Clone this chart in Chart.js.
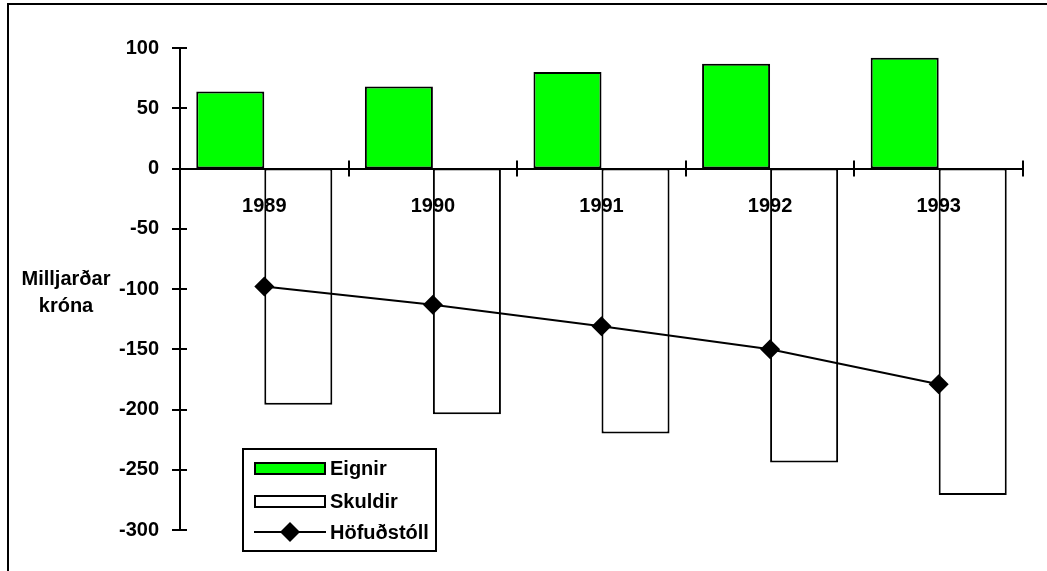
<!DOCTYPE html>
<html>
<head>
<meta charset="utf-8">
<script src="https://cdn.jsdelivr.net/npm/chart.js@4"></script>
<style>
    html, body { margin: 0; padding: 0; background: #fff; }
    #wrap { position: relative; width: 1047px; height: 571px; overflow: hidden; }
    #frame { position: absolute; left: 7px; top: 3px; width: 1100px; height: 600px;
             border-left: 2px solid #000; border-top: 2px solid #000; pointer-events: none; }
    #ytitle { position: absolute; left: 0; top: 265px; width: 132px; text-align: center;
              font: bold 20px 'Liberation Sans', Arial, sans-serif; line-height: 27px; color: #000; }
</style>
</head>
<body>
<div id="wrap">
    <canvas id="chart" width="1047" height="571"></canvas>
    <div id="frame"></div>
    <div id="ytitle">Milljarðar<br>króna</div>
</div>
<script>
var categories = ['1989', '1990', '1991', '1992', '1993'];
var eignir = [64, 68, 80, 87, 92];
var skuldir = [-196, -204, -220, -244, -271];
var hofudstoll = [-98, -113, -131, -150, -179];
var yTicks = [100, 50, 0, -50, -100, -150, -200, -250, -300];

var FONT = { family: "'Liberation Sans', Arial, sans-serif", size: 20, weight: 'bold' };

// tick marks cross the axis lines
var crossTicks = {
    id: 'crossTicks',
    afterDatasetsDraw: function(chart) {
        var ctx = chart.ctx;
        var x = chart.scales.x;
        var y = chart.scales.y;
        ctx.save();
        ctx.strokeStyle = '#000';
        ctx.lineWidth = 2;
        ctx.beginPath();
        yTicks.forEach(function(v) {
            var py = Math.round(y.getPixelForValue(v));
            ctx.moveTo(x.left - 8, py);
            ctx.lineTo(x.left + 7, py);
        });
        var y0 = y.getPixelForValue(0);
        for (var i = 0; i <= categories.length; i++) {
            var px = Math.round(x.getPixelForValue(i - 0.5));
            ctx.moveTo(px, y0 - 8);
            ctx.lineTo(px, y0 + 8);
        }
        ctx.stroke();
        ctx.restore();
    }
};

// legend box sits inside the plot, lower left
var boxLegend = {
    id: 'boxLegend',
    afterDraw: function(chart) {
        var ctx = chart.ctx;
        var ds = chart.data.datasets;
        var bx = 243, by = 449, bw = 193, bh = 102;
        ctx.save();
        ctx.fillStyle = '#fff';
        ctx.fillRect(bx, by, bw, bh);
        ctx.strokeStyle = '#000';
        ctx.lineWidth = 2;
        ctx.strokeRect(bx, by, bw, bh);

        ctx.font = 'bold 20px ' + FONT.family;
        ctx.textBaseline = 'middle';
        ctx.textAlign = 'left';

        var rows = [468, 501, 532];
        for (var i = 0; i < 2; i++) {
            ctx.fillStyle = ds[i].backgroundColor;
            ctx.fillRect(255, rows[i] - 5, 70, 11);
            ctx.strokeRect(255, rows[i] - 5, 70, 11);
            ctx.fillStyle = '#000';
            ctx.fillText(ds[i].label, 330, rows[i] + 1);
        }
        ctx.beginPath();
        ctx.moveTo(254, rows[2]);
        ctx.lineTo(326, rows[2]);
        ctx.stroke();
        ctx.beginPath();
        ctx.moveTo(290, rows[2] - 10);
        ctx.lineTo(300, rows[2]);
        ctx.lineTo(290, rows[2] + 10);
        ctx.lineTo(280, rows[2]);
        ctx.closePath();
        ctx.fillStyle = '#000';
        ctx.fill();
        ctx.fillText(ds[2].label, 330, rows[2] + 1);
        ctx.restore();
    }
};

new Chart(document.getElementById('chart'), {
    type: 'bar',
    data: {
        labels: categories,
        datasets: [{
            label: 'Eignir',
            data: eignir,
            backgroundColor: '#00ff00',
            borderColor: '#000',
            borderWidth: 2,
            borderSkipped: false,
            categoryPercentage: 0.807,
            barPercentage: 1.0,
            order: 1
        }, {
            label: 'Skuldir',
            data: skuldir,
            backgroundColor: '#ffffff',
            borderColor: '#000',
            borderWidth: 2,
            borderSkipped: false,
            categoryPercentage: 0.807,
            barPercentage: 1.0,
            order: 1
        }, {
            type: 'line',
            label: 'Höfuðstóll',
            data: hofudstoll,
            borderColor: '#000',
            backgroundColor: '#000',
            borderWidth: 2,
            pointStyle: 'rectRot',
            pointRadius: 10,
            pointBorderWidth: 0,
            pointBackgroundColor: '#000',
            fill: false,
            order: 0
        }]
    },
    options: {
        responsive: false,
        animation: false,
        layout: { padding: { top: 48, right: 24, bottom: 41, left: 0 } },
        plugins: {
            legend: { display: false },
            tooltip: { enabled: false }
        },
        scales: {
            x: {
                position: { y: 0 },
                grid: { display: false, drawTicks: false },
                border: { color: '#000', width: 2, z: 1 },
                // year labels are drawn over the bars
                ticks: { color: '#000', font: FONT, padding: 26, maxRotation: 0, z: 1 }
            },
            y: {
                min: -300,
                max: 100,
                afterFit: function(scale) { scale.width = 180; },
                afterBuildTicks: function(scale) {
                    scale.ticks = yTicks.map(function(v) { return { value: v }; });
                },
                grid: { display: false, drawTicks: false },
                border: { color: '#000', width: 2 },
                ticks: { color: '#000', font: FONT, padding: 21 }
            }
        }
    },
    plugins: [crossTicks, boxLegend]
});
</script>
</body>
</html>
